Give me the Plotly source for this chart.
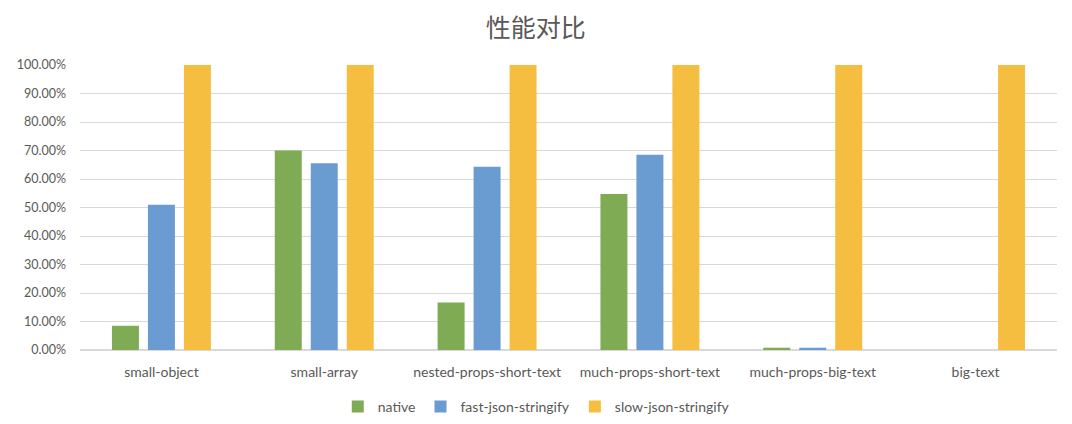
import plotly.graph_objects as go

# 数据
categories = ['small-object', 'small-array', 'nested-props-short-text',
              'much-props-short-text', 'much-props-big-text', 'big-text']
native = [0.085, 0.70, 0.167, 0.547, 0.008, 0.0]
fast_json = [0.51, 0.655, 0.643, 0.685, 0.008, 0.0]
slow_json = [1.0, 1.0, 1.0, 1.0, 1.0, 1.0]

series_names = ['native', 'fast-json-stringify', 'slow-json-stringify']
colors = ['#7fab55', '#6a9bd1', '#f5be41']

fig = go.Figure()
for name, vals, color in zip(series_names, [native, fast_json, slow_json], colors):
    fig.add_trace(go.Bar(
        x=categories,
        y=vals,
        name=name,
        marker=dict(color=color, line=dict(width=0)),
    ))

# 页面 body 有 8px 的默认边距，所以尺寸和边距都减掉 8
fig.update_layout(
    width=1064,
    height=416,
    barmode='group',
    bargap=0.337,
    bargroupgap=0.25,
    plot_bgcolor='white',
    paper_bgcolor='white',
    font=dict(family='Lato, Noto Sans CJK SC', size=14, color='#595959'),
    title=dict(
        text='性能对比',
        x=0.496,
        xanchor='center',
        y=0.952,
        yanchor='middle',
        font=dict(family='Noto Sans CJK SC', size=25, color='#595959'),
    ),
    margin=dict(l=72, r=15, t=57, b=74),
    legend=dict(
        orientation='h',
        x=0.467,
        xanchor='center',
        yref='container',
        y=0.041,
        yanchor='middle',
        font=dict(size=14, color='#595959'),
        itemwidth=30,
    ),
    xaxis=dict(
        showgrid=False,
        showline=False,
        ticks='',
        automargin=False,
        ticklabelstandoff=12,
        tickfont=dict(size=14, color='#595959'),
    ),
    yaxis=dict(
        range=[0, 1],
        dtick=0.1,
        tickformat='.2%',
        showgrid=True,
        gridcolor='#d9d9d9',
        gridwidth=1,
        zeroline=True,
        zerolinecolor='#d9d9d9',
        ticks='',
        automargin=False,
        ticklabelstandoff=13,
        tickfont=dict(size=12.5, color='#595959'),
    ),
)

fig.write_html('out.html')
